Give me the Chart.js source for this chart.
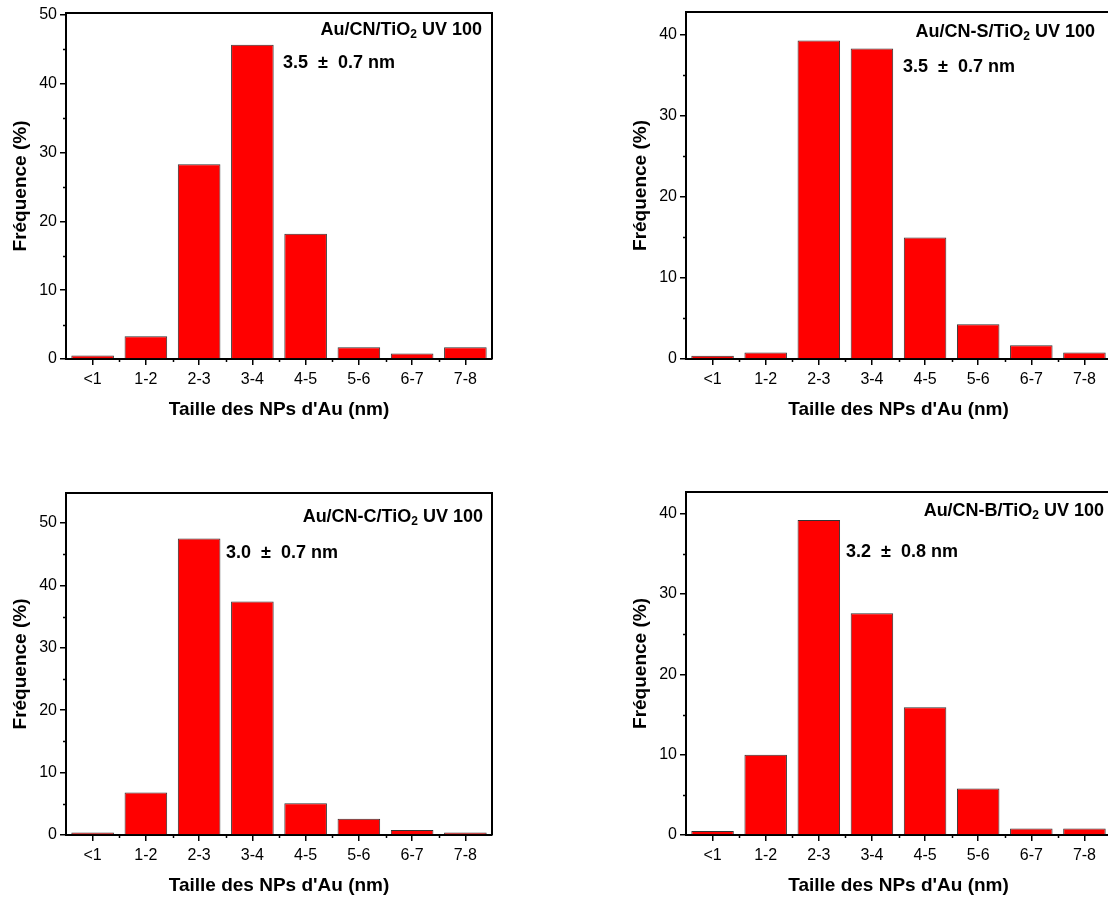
<!DOCTYPE html>
<html>
<head>
<meta charset="utf-8">
<script src="https://cdn.jsdelivr.net/npm/chart.js@4.4.0/dist/chart.umd.min.js"></script>
<style>
  html, body { margin: 0; padding: 0; background: #fff; width: 1108px; height: 898px; overflow: hidden; position: relative; }
  canvas { position: absolute; }
</style>
</head>
<body>
<canvas id="c0"></canvas>
<canvas id="c1"></canvas>
<canvas id="c2"></canvas>
<canvas id="c3"></canvas>
<script>
// size classes (nm)
var SIZE_BINS = ['<1', '1-2', '2-3', '3-4', '4-5', '5-6', '6-7', '7-8'];

// frequency (%) per sample
var FREQ_CN   = [0.5, 3.3, 28.3, 45.7, 18.2, 1.7, 0.8, 1.7];
var FREQ_CN_S = [0.4, 0.8, 39.3, 38.3, 15.0, 4.3, 1.7, 0.8];
var FREQ_CN_C = [0.4, 6.8, 47.5, 37.4, 5.1, 2.6, 0.8, 0.4];
var FREQ_CN_B = [0.5, 10.0, 39.2, 27.6, 15.9, 5.8, 0.8, 0.8];

var Y_MAX = [50.3, 42.8, 54.8, 42.7];
var Y_STEP = 10;

// sample name split round the subscript
var SAMPLE_NAMES = [
  ['Au/CN/TiO', '2', ' UV 100'],
  ['Au/CN-S/TiO', '2', ' UV 100'],
  ['Au/CN-C/TiO', '2', ' UV 100'],
  ['Au/CN-B/TiO', '2', ' UV 100']
];
var MEAN_SIZES = ['3.5  \u00b1  0.7 nm', '3.5  \u00b1  0.7 nm', '3.0  \u00b1  0.7 nm', '3.2  \u00b1  0.8 nm'];

var X_TITLE = "Taille des NPs d'Au (nm)";
var Y_TITLE = 'Fréquence (%)';

var FONT = "'Liberation Sans', Arial, sans-serif";
var RED = '#ff0000';

// where each plot area sits on the page, and where its labels go inside it
var PANELS = [
  { data: FREQ_CN,   left: 66,  top: 13,  w: 426, h: 346, nameInset: 10, nameDy: 17, statDx: 217, statDy: 50 },
  { data: FREQ_CN_S, left: 686, top: 12,  w: 425, h: 347, nameInset: 16, nameDy: 20, statDx: 217, statDy: 55 },
  { data: FREQ_CN_C, left: 66,  top: 493, w: 426, h: 342, nameInset: 9,  nameDy: 24, statDx: 160, statDy: 60 },
  { data: FREQ_CN_B, left: 686, top: 492, w: 425, h: 343, nameInset: 7,  nameDy: 19, statDx: 160, statDy: 60 }
];

var Y_AXIS_W = 66, X_AXIS_H = 62, PAD_T = 20, PAD_R = 20;

/** Box on top/right plus the short minor ticks. */
var frameTicks = {
  id: 'frameTicks',
  afterDraw: function (chart) {
    var ctx = chart.ctx, a = chart.chartArea;
    var xs = chart.scales.x, ys = chart.scales.y;
    ctx.save();
    ctx.strokeStyle = '#000';
    ctx.lineWidth = 1.5;
    ctx.beginPath();
    for (var v = 5; v < ys.max; v += 10) {
      var py = Math.round(ys.getPixelForValue(v)) + 0.5;
      ctx.moveTo(a.left - 3, py);
      ctx.lineTo(a.left, py);
    }
    for (var i = 0; i < SIZE_BINS.length - 1; i++) {
      var px = Math.round((xs.getPixelForValue(i) + xs.getPixelForValue(i + 1)) / 2) + 0.5;
      ctx.moveTo(px, a.bottom);
      ctx.lineTo(px, a.bottom + 3);
    }
    ctx.stroke();
    ctx.lineWidth = 2;
    ctx.beginPath();
    ctx.moveTo(a.left - 1, a.top);
    ctx.lineTo(a.right, a.top);
    ctx.lineTo(a.right, a.bottom);
    ctx.stroke();
    ctx.restore();
  }
};

function labelPlugin(idx) {
  var p = PANELS[idx];
  return {
    id: 'sampleLabel' + idx,
    afterDraw: function (chart) {
      var ctx = chart.ctx, a = chart.chartArea;
      var parts = SAMPLE_NAMES[idx];
      var big = 'bold 18px ' + FONT, small = 'bold 12px ' + FONT;
      ctx.save();
      ctx.fillStyle = '#000';
      ctx.textBaseline = 'middle';
      ctx.textAlign = 'left';
      ctx.font = big;
      var w0 = ctx.measureText(parts[0]).width;
      var w2 = ctx.measureText(parts[2]).width;
      ctx.font = small;
      var w1 = ctx.measureText(parts[1]).width;
      var x = a.right - p.nameInset - (w0 + w1 + w2);
      var y = a.top + p.nameDy;
      ctx.font = big;
      ctx.fillText(parts[0], x, y);
      ctx.font = small;
      ctx.fillText(parts[1], x + w0, y + 5);
      ctx.font = big;
      ctx.fillText(parts[2], x + w0 + w1, y);
      ctx.fillText(MEAN_SIZES[idx], a.left + p.statDx, a.top + p.statDy);
      ctx.restore();
    }
  };
}

function renderPanel(idx) {
  var p = PANELS[idx];
  var canvas = document.getElementById('c' + idx);
  var cw = Y_AXIS_W + p.w + PAD_R;
  var ch = PAD_T + p.h + X_AXIS_H;
  canvas.width = cw;
  canvas.height = ch;
  canvas.style.width = cw + 'px';
  canvas.style.height = ch + 'px';
  canvas.style.left = (p.left - Y_AXIS_W) + 'px';
  canvas.style.top = (p.top - PAD_T) + 'px';

  return new Chart(canvas.getContext('2d'), {
    type: 'bar',
    data: {
      labels: SIZE_BINS,
      datasets: [{
        data: p.data,
        backgroundColor: RED,
        borderColor: '#333',
        borderWidth: 1,
        borderSkipped: 'bottom',
        barPercentage: 0.8,
        categoryPercentage: 1.0
      }]
    },
    options: {
      responsive: false,
      animation: false,
      devicePixelRatio: 1,
      layout: { padding: { top: PAD_T, right: PAD_R, left: 0, bottom: 0 } },
      plugins: { legend: { display: false }, tooltip: { enabled: false } },
      scales: {
        x: {
          afterFit: function (s) { s.height = X_AXIS_H; },
          ticks: { padding: 5, color: '#000', font: { family: FONT, size: 16 } },
          grid: { offset: false, drawOnChartArea: false, drawTicks: true, tickLength: 6, color: '#000', lineWidth: 1.5 },
          border: { display: true, color: '#000', width: 2 },
          title: {
            display: true, text: X_TITLE, color: '#000',
            font: { family: FONT, size: 19, weight: 'bold' },
            padding: { top: 0, bottom: 0 }
          }
        },
        y: {
          min: 0,
          max: Y_MAX[idx],
          bounds: 'data',
          afterFit: function (s) { s.width = Y_AXIS_W; },
          ticks: { stepSize: Y_STEP, includeBounds: false, padding: 3, color: '#000', font: { family: FONT, size: 16 } },
          grid: { drawOnChartArea: false, drawTicks: true, tickLength: 6, color: '#000', lineWidth: 1.5 },
          border: { display: true, color: '#000', width: 2 },
          title: {
            display: true, text: Y_TITLE, color: '#000',
            font: { family: FONT, size: 19, weight: 'bold' },
            padding: { top: 9, bottom: 0 }
          }
        }
      }
    },
    plugins: [frameTicks, labelPlugin(idx)]
  });
}

PANELS.forEach(function (p, i) { renderPanel(i); });
</script>
</body>
</html>
